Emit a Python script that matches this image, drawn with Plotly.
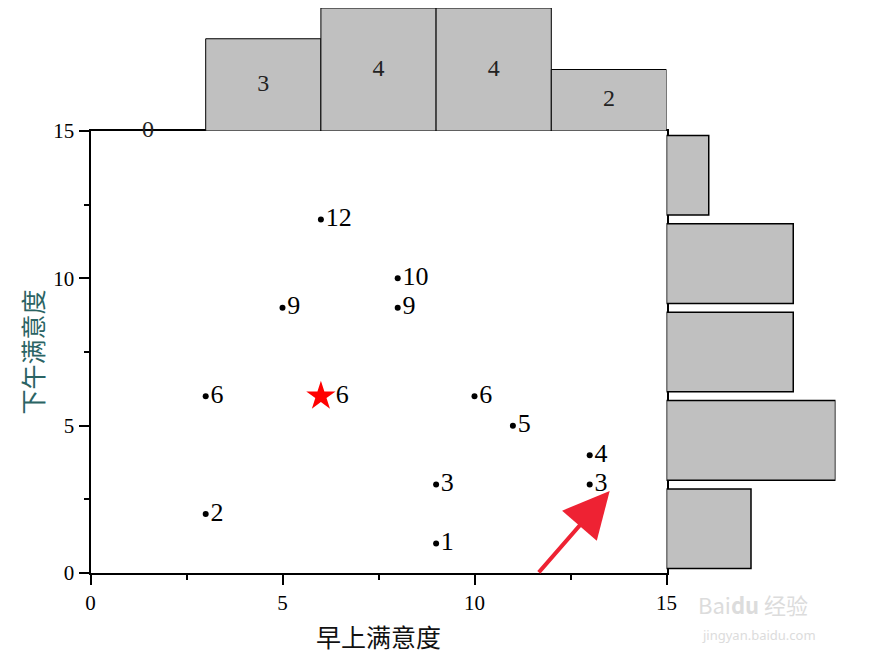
import numpy as np
import plotly.graph_objects as go

# 早上 / 下午 满意度 scores for each respondent
morning = [3, 3, 5, 6, 6, 8, 8, 9, 9, 10, 11, 13, 13]
afternoon = [2, 6, 9, 12, 6, 10, 9, 3, 1, 6, 5, 4, 3]
point_labels = [str(v) for v in afternoon]
star_index = 4  # highlighted point (6, 6)

bin_edges = [0, 3, 6, 9, 12, 15]
tick_vals = [0, 5, 10, 15]

top_counts, _ = np.histogram(morning, bins=bin_edges)
right_counts, _ = np.histogram(afternoon, bins=bin_edges)
centers = [(a + b) / 2 for a, b in zip(bin_edges[:-1], bin_edges[1:])]

serif = "Liberation Serif, Times New Roman, serif"
cjk = "Noto Sans CJK SC"

W, H = 885, 662
OX, OY = 7.5, 7  # page offset of the figure


def px(x):
    return (x - OX) / W


def py(y):
    return (H - (y - OY)) / H


main_x = [px(90), px(666)]
main_y = [py(572), py(130)]

normal = [i for i in range(len(morning)) if i != star_index]

fig = go.Figure()

fig.add_trace(go.Scatter(
    x=[morning[i] for i in normal], y=[afternoon[i] for i in normal],
    text=[point_labels[i] for i in normal],
    mode="markers+text", textposition="middle right",
    marker=dict(color="black", size=6),
    textfont=dict(family=serif, size=26, color="black"),
    cliponaxis=False, xaxis="x", yaxis="y"))

fig.add_trace(go.Scatter(
    x=[morning[star_index]], y=[afternoon[star_index]],
    text=[point_labels[star_index]],
    mode="markers+text", textposition="middle right",
    marker=dict(color="red", size=22, symbol="star"),
    textfont=dict(family=serif, size=26, color="black"),
    cliponaxis=False, xaxis="x", yaxis="y"))

# marginal histogram on top
fig.add_trace(go.Bar(
    x=centers, y=top_counts, width=3,
    marker=dict(color="#c0c0c0", line=dict(color="black", width=1)),
    xaxis="x", yaxis="y2"))
fig.add_trace(go.Scatter(
    x=centers, y=top_counts / 2, text=[str(c) for c in top_counts],
    mode="text", textfont=dict(family=serif, size=24, color="#222"),
    cliponaxis=False, xaxis="x", yaxis="y2"))

# marginal histogram on the right
fig.add_trace(go.Bar(
    y=centers, x=right_counts, width=2.7, orientation="h",
    marker=dict(color="#c0c0c0", line=dict(color="black", width=1.5)),
    xaxis="x2", yaxis="y"))

axis_common = dict(
    range=[0, 15], tickvals=tick_vals, ticks="outside", ticklen=10,
    tickwidth=2, tickcolor="black", linecolor="black", linewidth=2,
    showline=True, mirror=True, showgrid=False, zeroline=False,
    automargin=False,
    tickfont=dict(family=serif, size=21, color="black"),
    minor=dict(dtick=2.5, ticks="outside", ticklen=5, tickwidth=2,
               tickcolor="black", showgrid=False))

fig.update_layout(
    width=W, height=H,
    margin=dict(l=0, r=0, t=0, b=0, pad=0, autoexpand=False),
    paper_bgcolor="white", plot_bgcolor="rgba(0,0,0,0)",
    showlegend=False,
    xaxis=dict(domain=main_x, anchor="y", **axis_common),
    yaxis=dict(domain=main_y, anchor="x", **axis_common),
    yaxis2=dict(domain=[main_y[1], 1.0], anchor="x", range=[0, 4],
                visible=False, automargin=False),
    xaxis2=dict(domain=[main_x[1], px(835)], anchor="y", range=[0, 4],
                visible=False, automargin=False),
    annotations=[
        dict(text="早上满意度", x=px(378), y=py(635), xref="paper",
             yref="paper", xanchor="center", yanchor="middle",
             showarrow=False, font=dict(family=cjk, size=25, color="#111")),
        dict(text="下午满意度", x=px(31), y=py(351), xref="paper",
             yref="paper", xanchor="center", yanchor="middle",
             showarrow=False, textangle=-90,
             font=dict(family=cjk, size=25, color="#2b6464")),
        dict(x=13.52, y=2.78, ax=11.64, ay=-0.03, xref="x", yref="y",
             axref="x", ayref="y", text="", showarrow=True, arrowhead=2,
             arrowsize=2.3, arrowwidth=4, arrowcolor="#ee2233"),
        dict(text="Bai<b>du</b> 经验", x=px(695), y=py(603), xanchor="left",
             yanchor="middle", xref="paper", yref="paper", showarrow=False,
             font=dict(family="Noto Sans CJK SC", size=22, color="#dcdcdc")),
        dict(text="jingyan.baidu.com", x=px(758), y=py(634),
             xanchor="center", yanchor="middle",
             xref="paper", yref="paper", showarrow=False,
             font=dict(family="Noto Sans", size=13, color="#dcdcdc")),
    ],
)

fig.write_html("out.html")
